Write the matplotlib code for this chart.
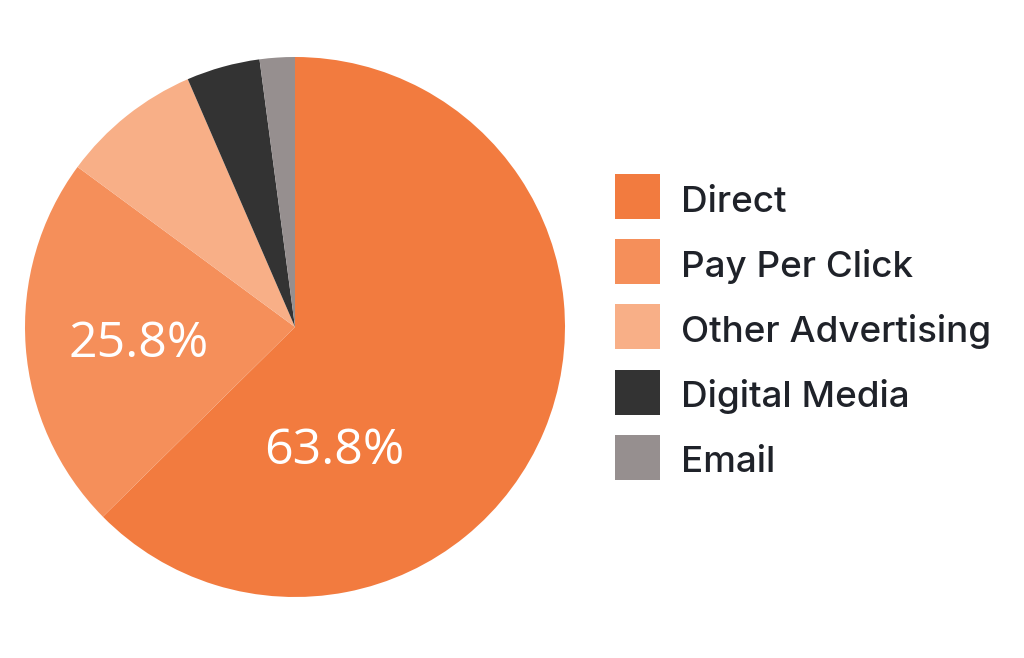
import matplotlib
matplotlib.use("Agg")
import matplotlib.pyplot as plt
from matplotlib.patches import Rectangle

# slice sizes (clockwise from 12 o'clock)
channels = ["Direct", "Pay Per Click", "Other Advertising", "Digital Media", "Email"]
shares = [62.6, 22.5, 8.4, 4.4, 2.1]
shown_labels = ["63.8%", "25.8%", "", "", ""]
colors = ["#F27B3F", "#F58F5A", "#F8AF87", "#333333", "#968F8F"]

W, H = 1024, 658
fig = plt.figure(figsize=(W / 100, H / 100), dpi=100)
fig.patch.set_facecolor("white")

# pie axes, square in pixels
ax = fig.add_axes([25 / W, (H - 597) / H, 540 / W, 540 / H])
wedges, _ = ax.pie(shares, colors=colors, startangle=90, counterclock=False,
                   radius=1, wedgeprops=dict(linewidth=0))
ax.set_xlim(-1, 1)
ax.set_ylim(-1, 1)
ax.axis("off")

# percentage labels
label_pos = [(0.145, -0.46), (-0.58, -0.065)]
for (x, y), txt in zip(label_pos, shown_labels[:2]):
    ax.text(x, y, txt, ha="center", va="center", color="white",
            fontsize=36, family=["Open Sans", "DejaVu Sans"])

# legend drawn in pixel coordinates
lg = fig.add_axes([0, 0, 1, 1])
lg.set_xlim(0, W)
lg.set_ylim(H, 0)
lg.axis("off")
lg.patch.set_alpha(0)

row0 = 196.5
step = 65.2
for i, (name, c) in enumerate(zip(channels, colors)):
    cy = row0 + i * step
    lg.add_patch(Rectangle((615, cy - 22.5), 45, 45, facecolor=c, edgecolor="none"))
    lg.text(681, cy + 15, name, ha="left", va="baseline", fontsize=26.5,
            color="#1F2229", family=["Inter", "DejaVu Sans"], fontweight="medium")

fig.savefig("out.png", dpi=100, facecolor="white")
